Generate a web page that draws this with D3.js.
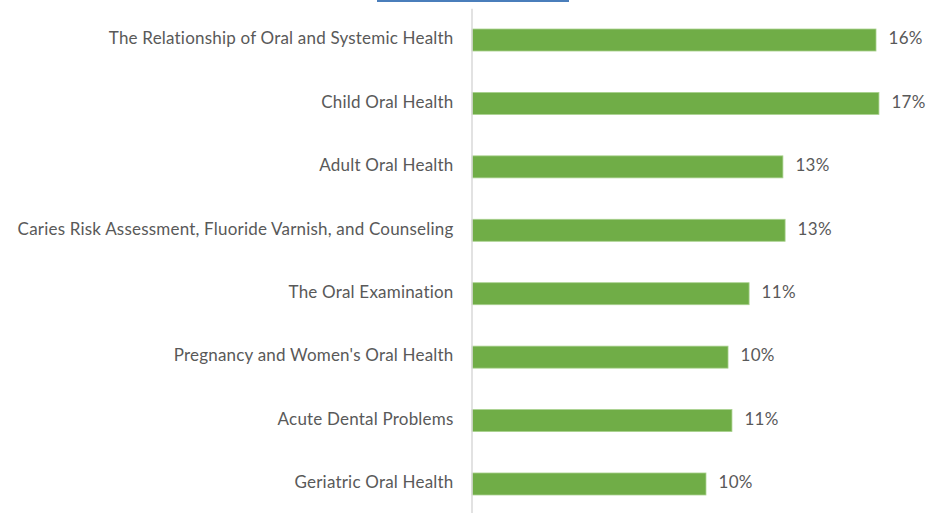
<!DOCTYPE html>
<html>
<head>
<meta charset="utf-8">
<script src="https://cdn.jsdelivr.net/npm/d3@7"></script>
<style>
  body { margin: 0; background: #fff; }
  svg { display: block; }
</style>
</head>
<body>
<div id="canvas"></div>
<script>
// Categorias y valores (fraccion)
const categories = [
    "The Relationship of Oral and Systemic Health",
    "Child Oral Health",
    "Adult Oral Health",
    "Caries Risk Assessment, Fluoride Varnish, and Counseling",
    "The Oral Examination",
    "Pregnancy and Women's Oral Health",
    "Acute Dental Problems",
    "Geriatric Oral Health"
];
const values = [0.1649, 0.1661, 0.1269, 0.1278, 0.1131, 0.1045, 0.1061, 0.0955];

// Caracteristicas del canvas
const width = 932;
const height = 513;
const axisX = 471.5;
const font = "Lato, 'Open Sans', sans-serif";

const svg = d3.select("#canvas").append("svg")
    .attr("width", width)
    .attr("height", height);

// Linea azul recortada arriba
svg.append("rect")
    .attr("x", 377).attr("y", 0)
    .attr("width", 192).attr("height", 2)
    .attr("fill", "#4a7ebb");

const g = svg.append("g").attr("transform", `translate(${axisX}, 0)`);

// Escalas
const x = d3.scaleLinear()
    .domain([0, 0.18])
    .range([0, 441]);

const y = d3.scaleBand()
    .domain(categories)
    .range([8.3, 515.7])
    .paddingInner(0.653)
    .paddingOuter(0.3265);

const data = categories.map((c, i) => ({ name: c, value: values[i] }));

// Barras
g.selectAll("rect.bar").data(data)
    .enter()
    .append("rect")
    .attr("class", "bar")
    .attr("x", 0.5)
    .attr("y", d => y(d.name))
    .attr("width", d => x(d.value))
    .attr("height", y.bandwidth())
    .attr("fill", "#70ad47")
    .attr("stroke", "#a9d18e")
    .attr("stroke-width", 0.8);

// Etiquetas de valor
g.selectAll("text.lbl").data(data)
    .enter()
    .append("text")
    .attr("class", "lbl")
    .attr("x", d => x(d.value) + 13)
    .attr("y", d => y(d.name) + y.bandwidth() / 2)
    .attr("dy", "0.25em")
    .style("font-family", font)
    .style("font-size", "17px")
    .style("letter-spacing", "0.3px")
    .attr("fill", "#595959")
    .text(d => Math.round(d.value * 100) + "%");

// Eje y con las categorias
const yAxis = g.append("g")
    .call(d3.axisLeft(y).tickSize(0).tickPadding(18));

yAxis.select(".domain").attr("stroke", "#d9d9d9").attr("stroke-width", 1.5);
yAxis.selectAll("text")
    .attr("dy", "0.25em")
    .style("font-family", font)
    .style("font-size", "17px")
    .style("letter-spacing", "0.2px")
    .attr("fill", "#595959");
</script>
</body>
</html>
